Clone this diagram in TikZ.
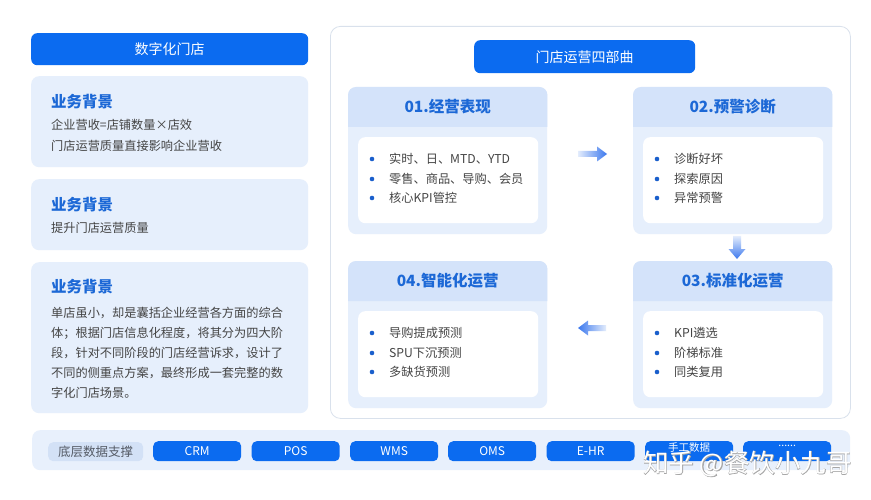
\documentclass[tikz,border=0pt]{standalone}
\usepackage{fontspec}
\setmainfont{Noto Sans CJK SC}
\newfontfamily\wmfont[FakeBold=2.5]{Noto Sans CJK SC}
\usetikzlibrary{calc}
\definecolor{mainblue}{HTML}{0B6BF0}
\definecolor{cardbg}{HTML}{E6EFFC}
\definecolor{bandbg}{HTML}{D4E3FA}
\definecolor{titleblue}{HTML}{1C68D6}
\definecolor{bodytext}{HTML}{444444}
\definecolor{panelline}{HTML}{D9E1EC}
\definecolor{barbg}{HTML}{E8F0FC}
\definecolor{labbg}{HTML}{D3E1F6}
\definecolor{labtext}{HTML}{555B66}
\definecolor{dotblue}{HTML}{1A5FCC}
\definecolor{arrowblue}{HTML}{3B78EE}
\definecolor{arrowlight}{HTML}{E3ECFC}
\tikzset{
  hdr/.style={fill=mainblue, rounded corners=6, text=white, inner sep=0,
    font=\fontsize{14}{16}\selectfont},
  lcard/.style={fill=cardbg, rounded corners=8, inner sep=0, minimum width=277},
  ltitle/.style={text=titleblue, inner sep=0, font=\fontsize{15.5}{18}\selectfont\bfseries},
  ltext/.style={text=bodytext, inner sep=0, font=\fontsize{12.2}{14}\selectfont},
  panelbox/.style={fill=white, draw=panelline, line width=0.8, rounded corners=10, inner sep=0},
  scard/.style={fill=cardbg, rounded corners=8, inner sep=0, minimum width=199, minimum height=147},
  band/.style={fill=bandbg},
  stitle/.style={text=titleblue, inner sep=0, font=\fontsize{15.5}{18}\selectfont\bfseries},
  innerbox/.style={fill=white, rounded corners=7, inner sep=0, minimum width=180, minimum height=86},
  itemtext/.style={text=bodytext, inner sep=0, font=\fontsize{12.2}{14}\selectfont},
  bullet/.style={circle, fill=dotblue, inner sep=0, minimum size=4.6},
  barbox/.style={fill=barbg, rounded corners=8, inner sep=0},
  labbox/.style={fill=labbg, rounded corners=5, inner sep=0, text=labtext,
    font=\fontsize{12.5}{14}\selectfont},
  btn/.style={fill=mainblue, rounded corners=5, inner sep=0, text=white,
    minimum width=88, minimum height=20, font=\fontsize{12}{14}\selectfont},
  btnsmall/.style={inner sep=0, text=white, font=\fontsize{10.5}{12}\selectfont},
}
\newcommand\stagecard[7]{%
  \node[scard, anchor=north west] (#1) at (#2,#3) {};
  \fill[band] ($(#1.north west)+(0,40)$) [rounded corners=8] -- (#1.north west)
     -- (#1.north east) [sharp corners] -- ($(#1.north east)+(0,40)$) -- cycle;
  \node[stitle] (#1t) at ($(#1.north)+(0,20)$) {#4};
  \node[innerbox, anchor=north west] (#1in) at ($(#1.north west)+(10,50)$) {};
  \node[bullet] (#1b1) at ($(#1.north west)+(24,72)$) {};
  \node[bullet] (#1b2) at ($(#1.north west)+(24,92)$) {};
  \node[bullet] (#1b3) at ($(#1.north west)+(24,111)$) {};
  \node[itemtext, anchor=west] (#1i1) at ($(#1.north west)+(41,72)$) {#5};
  \node[itemtext, anchor=west] (#1i2) at ($(#1.north west)+(41,92)$) {#6};
  \node[itemtext, anchor=west] (#1i3) at ($(#1.north west)+(41,111)$) {#7};
}
\begin{document}
\begin{tikzpicture}[x=1pt,y=-1pt]
\useasboundingbox (0,0) rectangle (871,500);
\fill[white] (0,0) rectangle (871,500);

% left column
\node[hdr, minimum width=277, minimum height=32, anchor=north west] (lhead) at (31,33) {数字化门店};
\node[lcard, minimum height=91, anchor=north west] (bg1) at (31,76) {};
\node[ltitle, anchor=west] (bg1t) at (51,102) {业务背景};
\node[ltext, anchor=west] (bg1a) at (51,125) {企业营收=店铺数量×店效};
\node[ltext, anchor=west] (bg1b) at (51,146) {门店运营质量直接影响企业营收};

\node[lcard, minimum height=71, anchor=north west] (bg2) at (31,179) {};
\node[ltitle, anchor=west] (bg2t) at (51,205) {业务背景};
\node[ltext, anchor=west] (bg2a) at (51,228) {提升门店运营质量};

\node[lcard, minimum height=151, anchor=north west] (bg3) at (31,262) {};
\node[ltitle, anchor=west] (bg3t) at (51,287) {业务背景};
\node[ltext, anchor=west] (bg3a) at (51,313) {单店虽小，却是囊括企业经营各方面的综合};
\node[ltext, anchor=west] (bg3b) at (51,333) {体；根据门店信息化程度，将其分为四大阶};
\node[ltext, anchor=west] (bg3c) at (51,353) {段，针对不同阶段的门店经营诉求，设计了};
\node[ltext, anchor=west] (bg3d) at (51,373) {不同的侧重点方案，最终形成一套完整的数};
\node[ltext, anchor=west] (bg3e) at (51,393) {字化门店场景。};

% right panel
\node[panelbox, minimum width=520, minimum height=392, anchor=north west] (panel) at (330,26) {};
\node[hdr, minimum width=221, minimum height=33, anchor=north west] (rhead) at (474,40) {门店运营四部曲};

\stagecard{s1}{348}{87}{01.经营表现}{实时、日、MTD、YTD}{零售、商品、导购、会员}{核心KPI管控}
\stagecard{s2}{633}{87}{02.预警诊断}{诊断好坏}{探索原因}{异常预警}
\stagecard{s3}{633}{261}{03.标准化运营}{KPI遴选}{阶梯标准}{同类复用}
\stagecard{s4}{348}{261}{04.智能化运营}{导购提成预测}{SPU下沉预测}{多缺货预测}

% flow arrows
\shade[left color=arrowlight, right color=arrowblue]
  (578,151) -- (597,151) -- (597,146.5) -- (607,154) -- (597,161.5) -- (597,157) -- (578,157) -- cycle;
\shade[top color=arrowlight, bottom color=arrowblue]
  (733,236) -- (741,236) -- (741,249) -- (745.5,249) -- (737,259) -- (728.5,249) -- (733,249) -- cycle;
\shade[left color=arrowblue, right color=arrowlight]
  (606,325) -- (588,325) -- (588,320.5) -- (578,328) -- (588,335.5) -- (588,331) -- (606,331) -- cycle;

% bottom bar
\node[barbox, minimum width=818, minimum height=40, anchor=north west] (bar) at (32,430) {};
\node[labbox, minimum width=95, minimum height=19, anchor=north west] (lab) at (48,442) {底层数据支撑};
\node[btn, anchor=north west] (crm) at (153,441) {CRM};
\node[btn, anchor=north west] (pos) at (251.5,441) {POS};
\node[btn, anchor=north west] (wms) at (350,441) {WMS};
\node[btn, anchor=north west] (oms) at (448,441) {OMS};
\node[btn, anchor=north west] (ehr) at (546.5,441) {E-HR};
\node[btn, anchor=north west] (manual) at (645,441) {};
\node[btnsmall] (manualt) at ($(manual.center)+(0,-3.5)$) {手工数据};
\node[btn, anchor=north west] (more) at (743,441) {};
\node[btnsmall] (moret) at ($(more.center)+(0,-5)$) {......};

% watermark
\node[anchor=west, inner sep=0, text=gray!70, font=\wmfont\fontsize{25.5}{28}\selectfont] (wm) at (643,464) {知乎 @餐饮小九哥};
\node[anchor=west, inner sep=0, text=white, font=\fontsize{25.5}{28}\selectfont] (wm2) at (643,464) {知乎 @餐饮小九哥};
\end{tikzpicture}
\end{document}
